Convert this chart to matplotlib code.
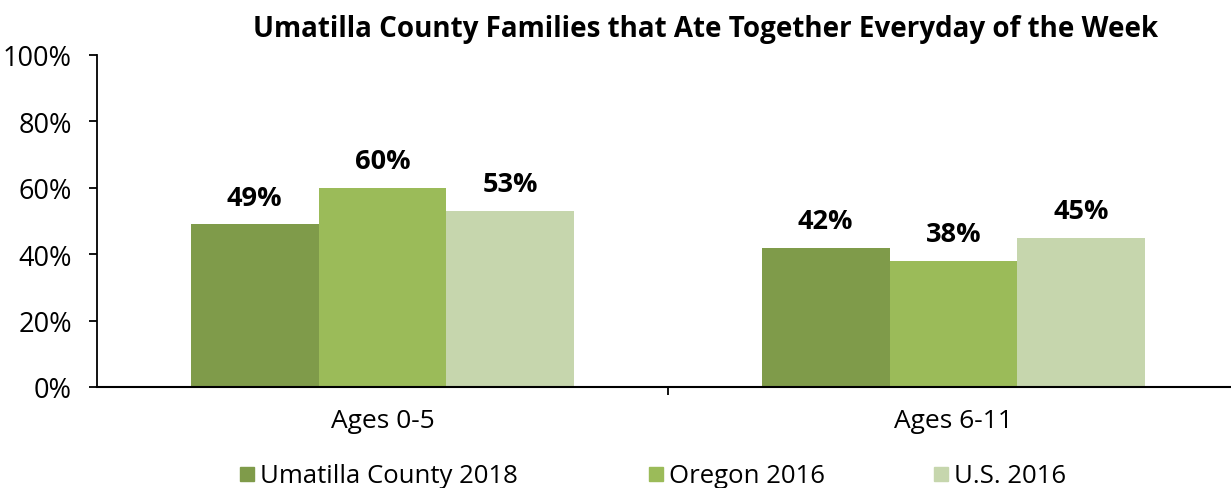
import matplotlib.pyplot as plt
import numpy as np

plt.rcParams['font.family'] = ['Open Sans', 'DejaVu Sans']

categories = ['Ages 0-5', 'Ages 6-11']
series_names = ['Umatilla County 2018', 'Oregon 2016', 'U.S. 2016']
umatilla_2018 = [49, 42]
oregon_2016 = [60, 38]
us_2016 = [53, 45]
colors = ['#7F9B4A', '#9BBB59', '#C6D6AD']

W, H = 1231, 489
fig = plt.figure(figsize=(W / 100, H / 100), dpi=100)
ax = fig.add_axes([97 / W, 1 - 388 / H, (1239 - 97) / W, (388 - 56) / H])

x = np.arange(len(categories))
bar_w = 0.224
for i, (vals, name) in enumerate(zip([umatilla_2018, oregon_2016, us_2016], series_names)):
    pos = x + (i - 1) * bar_w
    ax.bar(pos, vals, width=bar_w, color=colors[i], label=name, zorder=2)
    for p, v in zip(pos, vals):
        ax.text(p, v + 8, f'{v}%', ha='center', va='center', fontsize=19.5,
                fontweight='bold', color='black')

ax.set_xlim(-0.5, 1.5)
ax.set_ylim(0, 100)
ax.set_yticks(range(0, 101, 20))
ax.set_yticklabels([f'{t}%' for t in range(0, 101, 20)], fontsize=19.5)
ax.set_xticks(x)
ax.set_xticklabels(categories, fontsize=19)
ax.tick_params(axis='x', length=0, pad=15)
ax.set_xticks([0.5], minor=True)
ax.tick_params(axis='x', which='minor', length=6, width=1.3, color='black', direction='out')
ax.tick_params(axis='y', length=6, width=1.3, direction='out', pad=12)

for s in ['top', 'right']:
    ax.spines[s].set_visible(False)
ax.spines['left'].set_linewidth(1.3)
ax.spines['bottom'].set_linewidth(1.5)

fig.text(706 / W, 1 - 29 / H, 'Umatilla County Families that Ate Together Everyday of the Week',
         ha='center', va='center', fontsize=20, fontweight='bold')

leg_x = [240, 649, 934]
for lx, name, c in zip(leg_x, series_names, colors):
    fig.patches.append(plt.Rectangle((lx / W, 1 - 482 / H), 14 / W, 14 / H,
                                     transform=fig.transFigure, color=c))
    fig.text((lx + 20) / W, 1 - 477 / H, name, ha='left', va='center', fontsize=18.5)

fig.savefig('out.png', dpi=100)
